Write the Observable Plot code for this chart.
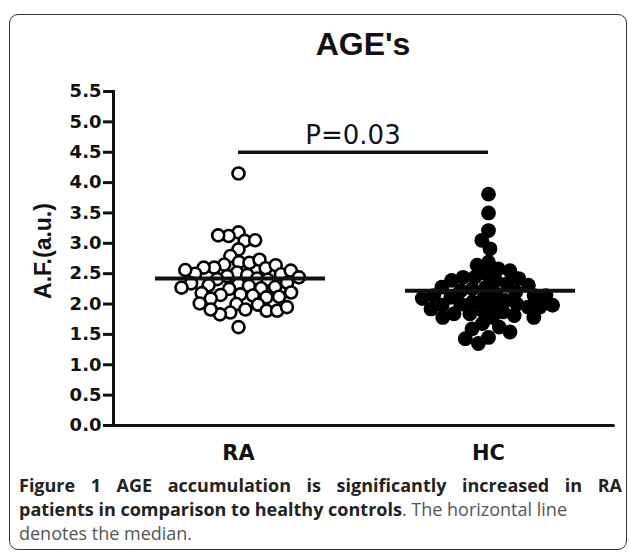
<!DOCTYPE html>
<html><head><meta charset="utf-8">
<script src="https://cdn.jsdelivr.net/npm/d3@7"></script>
<script src="https://cdn.jsdelivr.net/npm/@observablehq/plot@0.6"></script>
<style>
body{margin:0;background:#fff;}
#wrap{position:relative;width:629px;height:556px;overflow:hidden;font-family:"Liberation Sans",Arial,sans-serif;color:#111;}
#box{position:absolute;left:9px;top:14px;width:616px;height:534px;border:1.5px solid #333;border-radius:9px;}
#chart{position:absolute;left:0;top:0;}
#title{position:absolute;left:113px;width:500px;top:28px;text-align:center;font:bold 32px/1 "Liberation Sans",Arial,sans-serif;}
#ylab{position:absolute;left:43px;top:251px;transform:translate(-50%,-50%) rotate(-90deg);white-space:nowrap;font:bold 23px/1 "Liberation Sans",Arial,sans-serif;}
#ptxt{position:absolute;left:353px;top:122px;transform:translateX(-50%);white-space:nowrap;font:26px/1 "DejaVu Sans",sans-serif;}
#cap{position:absolute;left:19px;top:473px;width:603px;font:18px/24px "Open Sans",sans-serif;color:#555;}
#cap div{white-space:nowrap;}
#cap div.full{text-align:justify;text-align-last:justify;}
#cap b{color:#222;}
</style></head>
<body>
<div id="wrap">
  <div id="box"></div>
  <div id="chart"></div>
  <div id="title">AGE's</div>
  <div id="ylab">A.F.(a.u.)</div>
  <div id="ptxt">P=0.03</div>
  <div id="cap">
    <div class="full"><b>Figure 1 AGE accumulation is significantly increased in RA</b></div>
    <div><b>patients in comparison to healthy controls</b>. The horizontal line</div>
    <div>denotes the median.</div>
  </div>
</div>
<script>
const categories = ["RA", "HC"];
const raValues = [4.15,
  3.18, 3.12, 3.04, 3.05, 3.13, 2.90,
  2.79, 2.69, 2.68, 2.65, 2.73, 2.60, 2.59, 2.60, 2.64,
  2.52, 2.48, 2.46, 2.49, 2.50, 2.55, 2.56, 2.42, 2.41, 2.40, 2.44,
  2.33, 2.30, 2.25, 2.31, 2.28, 2.34, 2.26, 2.35, 2.27,
  2.16, 2.14, 2.15, 2.18, 2.19, 2.11, 2.12, 2.09,
  2.00, 1.91, 1.86, 2.01, 1.99, 1.83, 1.89, 1.91, 1.89, 1.95,
  1.62];
const hcValues = [3.81, 3.50, 3.21, 3.05, 2.91,
  2.69, 2.64, 2.58, 2.55, 2.50, 2.44, 2.44, 2.42, 2.39, 2.39, 2.33, 2.31, 2.28, 2.28, 2.25,
  2.22, 2.20, 2.17, 2.14, 2.14, 2.14, 2.11, 2.09, 2.09, 2.06, 2.03, 2.00, 2.00, 1.98, 1.98, 1.98, 1.95, 1.95, 1.92,
  1.89, 1.87, 1.84, 1.84, 1.81, 1.78, 1.78, 1.78, 1.68, 1.62, 1.59, 1.54, 1.45, 1.43, 1.35];
const medians = [2.42, 2.22];
const yTicks = [0, 0.5, 1, 1.5, 2, 2.5, 3, 3.5, 4, 4.5, 5, 5.5];
const yMax = 5.5;
const pBarY = 4.5;
// significance bar runs from the RA centre to the HC centre
const pBar = [{group: "RA", from: 0, to: 1}, {group: "HC", from: -1, to: 0}];

const raData = raValues.map(v => ({group: "RA", value: v}));
const hcData = hcValues.map(v => ({group: "HC", value: v}));
const medData = categories.map((c, i) => ({group: c, value: medians[i]}));

const chart = Plot.plot({
  width: 629,
  height: 470,
  marginTop: 91,
  marginBottom: 45,
  marginLeft: 113,
  marginRight: 16,
  style: {fontFamily: "DejaVu Sans", color: "#111", background: "transparent", overflow: "visible"},
  fx: {domain: categories, padding: 0},
  x: {domain: [-1, 1], axis: null},
  y: {domain: [0, yMax]},
  marks: [
    Plot.frame({anchor: "left", facetAnchor: "left", strokeWidth: 3, strokeLinecap: "square"}),
    Plot.frame({anchor: "bottom", strokeWidth: 3, strokeLinecap: "round"}),
    Plot.axisY({ticks: yTicks, tickFormat: d => d.toFixed(1), tickSize: 10, tickPadding: 2, strokeWidth: 3, fontSize: 18, fontWeight: "bold", label: null}),
    Plot.axisFx({anchor: "bottom", tickSize: 0, tickPadding: 20, fontSize: 21, fontWeight: "bold", label: null}),
    Plot.ruleY(pBar, {fx: "group", y: () => pBarY, x1: "from", x2: "to", strokeWidth: 3.5}),
    Plot.dot(raData, Plot.dodgeX({anchor: "middle", padding: -1.5}, {fx: "group", y: "value", r: 6, fill: "white", stroke: "black", strokeWidth: 2.6})),
    Plot.dot(hcData, Plot.dodgeX({anchor: "middle", padding: -3}, {fx: "group", y: "value", r: 7.4, fill: "black"})),
    Plot.tickY(medData, {fx: "group", y: "value", strokeWidth: 4, insetLeft: 42, insetRight: 38})
  ]
});
document.getElementById("chart").appendChild(chart);
</script>
</body></html>
